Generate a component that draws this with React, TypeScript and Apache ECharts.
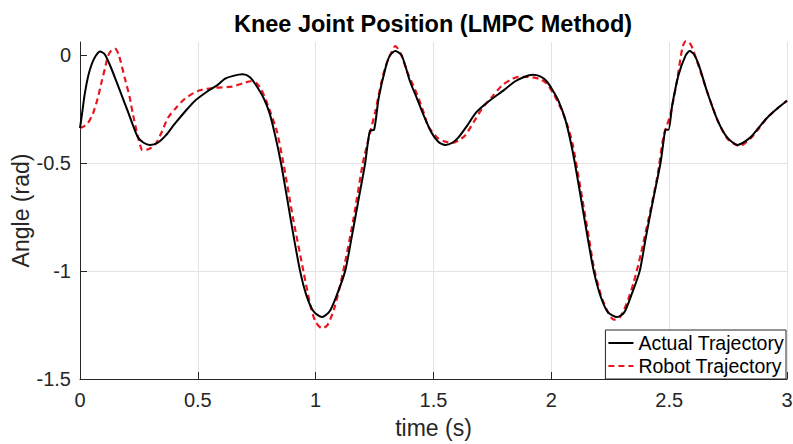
import React, { useEffect, useRef } from "react";
import * as echarts from "echarts";

const chartTitle = "Knee Joint Position (LMPC Method)";
const xAxisTitle = "time (s)";
const yAxisTitle = "Angle (rad)";
const seriesNames = ["Actual Trajectory", "Robot Trajectory"];
const xTicks = { min: 0, max: 3, interval: 0.5 };
const yTicks = { min: -1.5, max: 0.062, interval: 0.5 };
const yTickValues = [-1.5, -1, -0.5, 0];

// [time (s), angle (rad)]
const actualTrajectory: number[][] = [
  [0, -0.337], [0.01, -0.26], [0.02, -0.18], [0.035, -0.095], [0.05, -0.04], [0.065, -0.005],
  [0.085, 0.018], [0.105, 0.005], [0.125, -0.04], [0.149, -0.105], [0.175, -0.18], [0.203, -0.26],
  [0.225, -0.325], [0.246, -0.38], [0.27, -0.405], [0.297, -0.415], [0.33, -0.405], [0.365, -0.37],
  [0.4, -0.32], [0.446, -0.26], [0.488, -0.21], [0.543, -0.165], [0.58, -0.14], [0.616, -0.108],
  [0.65, -0.095], [0.69, -0.088], [0.72, -0.1], [0.745, -0.135], [0.78, -0.2], [0.805, -0.27],
  [0.83, -0.38], [0.853, -0.5], [0.88, -0.67], [0.905, -0.83], [0.934, -1.0], [0.96, -1.11],
  [0.99, -1.185], [1.027, -1.213], [1.06, -1.185], [1.09, -1.11], [1.125, -1.0], [1.15, -0.86],
  [1.18, -0.68], [1.21, -0.5], [1.23, -0.35], [1.248, -0.345], [1.267, -0.2], [1.296, -0.06],
  [1.315, 0.0], [1.338, 0.02], [1.365, 0.0], [1.4, -0.12], [1.43, -0.2], [1.457, -0.275],
  [1.49, -0.355], [1.52, -0.4], [1.55, -0.415], [1.58, -0.405], [1.606, -0.38], [1.64, -0.33],
  [1.677, -0.27], [1.71, -0.235], [1.75, -0.2], [1.8, -0.16], [1.847, -0.12], [1.885, -0.1],
  [1.92, -0.09], [1.953, -0.097], [1.98, -0.12], [2.005, -0.16], [2.03, -0.21], [2.06, -0.3],
  [2.08, -0.39], [2.1, -0.5], [2.13, -0.69], [2.155, -0.85], [2.18, -1.0], [2.21, -1.12],
  [2.24, -1.19], [2.28, -1.213], [2.31, -1.19], [2.34, -1.11], [2.375, -1.0], [2.4, -0.85],
  [2.43, -0.68], [2.463, -0.5], [2.476, -0.4], [2.485, -0.345], [2.497, -0.345], [2.513, -0.23],
  [2.54, -0.09], [2.57, 0.0], [2.587, 0.02], [2.605, 0.005], [2.626, -0.045], [2.66, -0.165],
  [2.705, -0.3], [2.746, -0.38], [2.79, -0.415], [2.845, -0.38], [2.88, -0.335], [2.915, -0.29],
  [2.96, -0.245], [3.0, -0.21],
];

const robotTrajectory: number[][] = [
  [0, -0.337], [0.015, -0.33], [0.033, -0.315], [0.055, -0.27], [0.075, -0.2], [0.09, -0.13],
  [0.106, -0.06], [0.12, 0.0], [0.135, 0.025], [0.15, 0.03], [0.165, 0.0], [0.19, -0.105],
  [0.21, -0.19], [0.225, -0.275], [0.24, -0.35], [0.255, -0.415], [0.265, -0.44], [0.29, -0.435],
  [0.318, -0.415], [0.345, -0.36], [0.373, -0.29], [0.41, -0.24], [0.446, -0.2], [0.5, -0.165],
  [0.573, -0.15], [0.645, -0.145], [0.69, -0.13], [0.725, -0.12], [0.75, -0.13], [0.77, -0.16],
  [0.79, -0.21], [0.81, -0.27], [0.835, -0.35], [0.863, -0.5], [0.905, -0.76], [0.948, -1.0],
  [0.98, -1.17], [1.0, -1.235], [1.027, -1.265], [1.05, -1.25], [1.08, -1.17], [1.117, -1.0],
  [1.16, -0.76], [1.2, -0.5], [1.218, -0.415], [1.253, -0.26], [1.28, -0.12], [1.3, -0.04],
  [1.316, 0.0], [1.338, 0.043], [1.36, 0.01], [1.39, -0.08], [1.43, -0.18], [1.46, -0.27],
  [1.478, -0.33], [1.52, -0.385], [1.55, -0.4], [1.58, -0.405], [1.605, -0.395], [1.635, -0.37],
  [1.67, -0.31], [1.707, -0.245], [1.75, -0.19], [1.79, -0.14], [1.825, -0.115], [1.86, -0.1],
  [1.9, -0.1], [1.953, -0.11], [1.98, -0.13], [2.01, -0.18], [2.047, -0.26], [2.07, -0.33],
  [2.09, -0.41], [2.11, -0.53], [2.14, -0.72], [2.16, -0.85], [2.18, -0.98], [2.21, -1.11],
  [2.24, -1.19], [2.265, -1.225], [2.29, -1.215], [2.32, -1.15], [2.35, -1.05], [2.38, -0.92],
  [2.42, -0.72], [2.45, -0.56], [2.477, -0.37], [2.505, -0.275], [2.535, -0.105], [2.556, 0.035],
  [2.57, 0.065], [2.585, 0.06], [2.598, 0.035], [2.633, -0.075], [2.66, -0.165], [2.705, -0.3],
  [2.75, -0.39], [2.8, -0.42], [2.845, -0.385], [2.88, -0.34], [2.915, -0.29], [2.96, -0.245],
  [3.0, -0.21],
];

const FONT = "Liberation Sans, Arial, Helvetica, sans-serif";
const AXIS_COLOR = "#262626";
const GRID_COLOR = "#e3e3e3";
const RED = "#e8171f";

export default function App() {
  const ref = useRef<HTMLDivElement>(null);

  useEffect(() => {
    if (!ref.current) return;
    const chart = echarts.init(ref.current, undefined, { renderer: "svg" });
    chart.setOption({
      animation: false,
      backgroundColor: "#ffffff",
      textStyle: { fontFamily: FONT },
      title: {
        text: chartTitle,
        left: 433,
        top: 12,
        textAlign: "center",
        padding: 0,
        textStyle: { fontFamily: FONT, fontSize: 23.5, fontWeight: "bold", color: "#000" },
      },
      grid: {
        left: 80,
        top: 42,
        width: 707,
        height: 337,
        containLabel: false,
        outerBoundsMode: "none",
      },
      legend: {
        orient: "vertical",
        right: 7,
        bottom: 65,
        padding: [3, 2, 3, 2],
        itemGap: 3,
        itemWidth: 25,
        itemHeight: 14,
        backgroundColor: "#ffffff",
        borderColor: AXIS_COLOR,
        borderWidth: 1,
        borderRadius: 0,
        selectedMode: false,
        itemStyle: { opacity: 0 },
        textStyle: { fontFamily: FONT, fontSize: 19.5, color: "#000", lineHeight: 20 },
        data: seriesNames,
      },
      xAxis: {
        type: "value",
        min: xTicks.min,
        max: xTicks.max,
        interval: xTicks.interval,
        name: xAxisTitle,
        nameLocation: "middle",
        nameGap: 37,
        nameMoveOverlap: false,
        nameTextStyle: { fontFamily: FONT, fontSize: 23, color: AXIS_COLOR },
        axisLine: { show: true, onZero: false, lineStyle: { color: AXIS_COLOR, width: 1 } },
        axisTick: { show: true, inside: true, length: 7, lineStyle: { color: AXIS_COLOR } },
        axisLabel: { fontFamily: FONT, fontSize: 20, color: AXIS_COLOR, margin: 11 },
        splitLine: { show: true, lineStyle: { color: GRID_COLOR, width: 1 } },
      },
      yAxis: {
        type: "value",
        min: yTicks.min,
        max: yTicks.max,
        interval: yTicks.interval,
        name: yAxisTitle,
        nameLocation: "middle",
        nameGap: 48,
        nameMoveOverlap: false,
        nameRotate: 90,
        nameTextStyle: { fontFamily: FONT, fontSize: 23, color: AXIS_COLOR },
        axisLine: { show: true, onZero: false, lineStyle: { color: AXIS_COLOR, width: 1 } },
        axisTick: {
          show: true,
          inside: true,
          length: 7,
          customValues: yTickValues,
          lineStyle: { color: AXIS_COLOR },
        },
        axisLabel: {
          fontFamily: FONT,
          fontSize: 20,
          color: AXIS_COLOR,
          margin: 9,
          customValues: yTickValues,
        },
        splitLine: { show: true, showMaxLine: false, lineStyle: { color: GRID_COLOR, width: 1 } },
      },
      series: [
        {
          name: seriesNames[0],
          type: "line",
          data: actualTrajectory,
          showSymbol: false,
          symbol: "none",
          smooth: 0.25,
          clip: false,
          z: 3,
          lineStyle: { color: "#000000", width: 2 },
          itemStyle: { color: "#000000" },
        },
        {
          name: seriesNames[1],
          type: "line",
          data: robotTrajectory,
          showSymbol: false,
          symbol: "none",
          smooth: 0.25,
          clip: false,
          z: 2,
          lineStyle: { color: RED, width: 2.2, type: [6, 4] },
          itemStyle: { color: RED },
        },
      ],
    });
    return () => chart.dispose();
  }, []);

  return (
    <div
      ref={ref}
      style={{ position: "fixed", left: 0, top: 0, width: 793, height: 444, background: "#fff" }}
    />
  );
}
